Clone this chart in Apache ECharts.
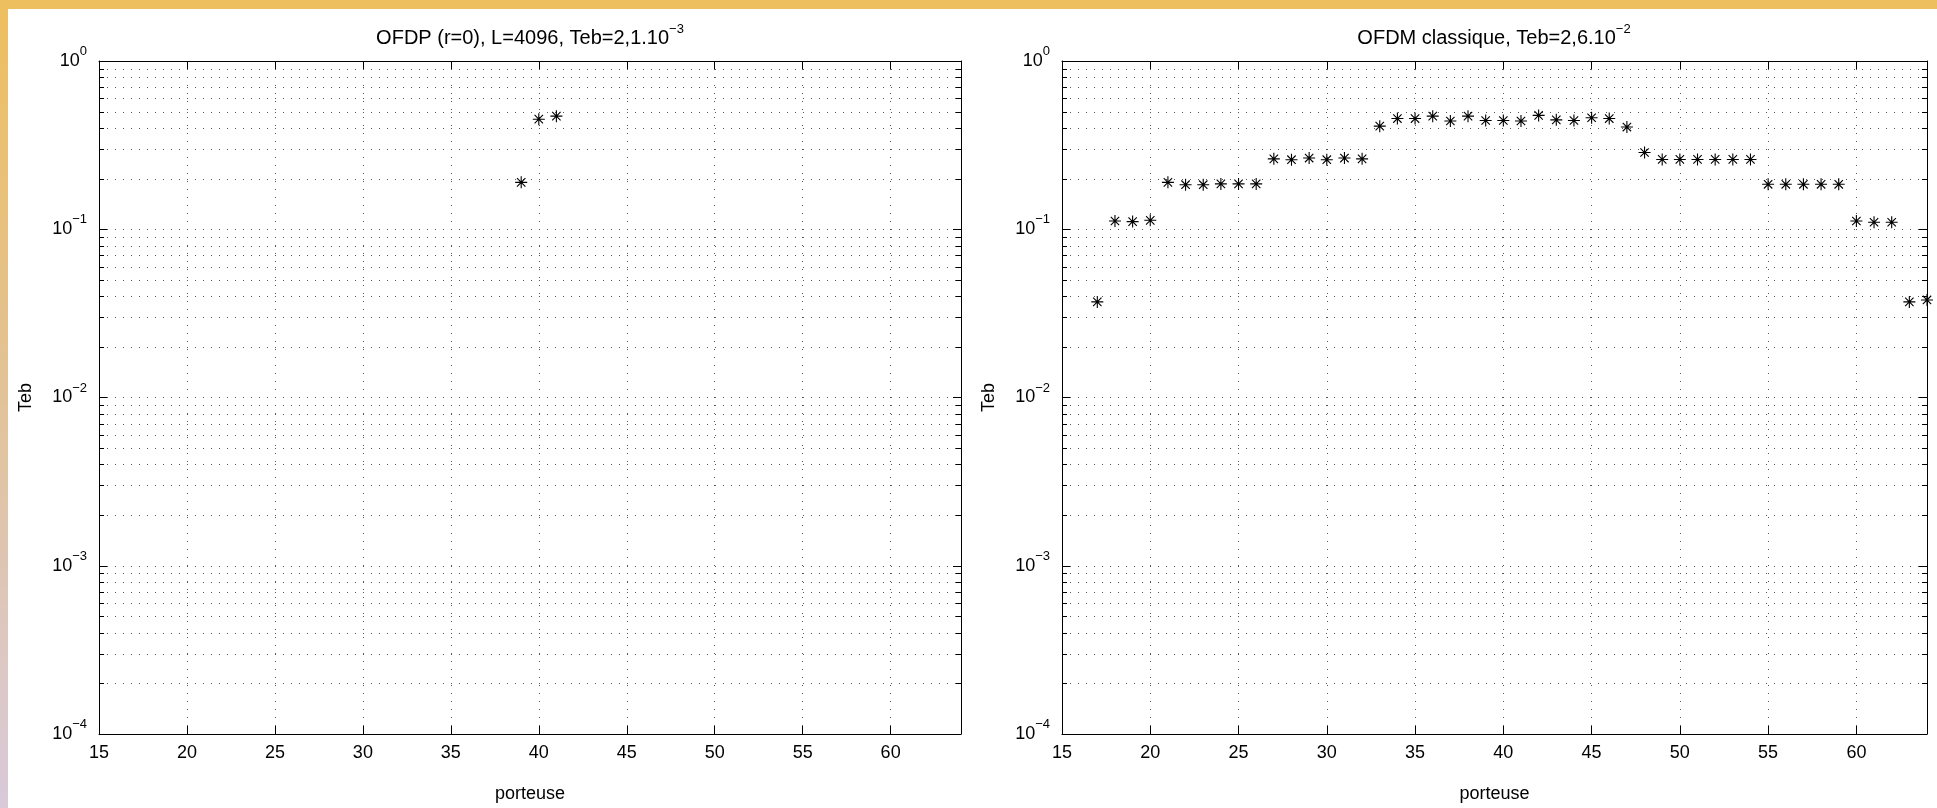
<!DOCTYPE html>
<html>
<head>
<meta charset="utf-8">
<script src="https://cdn.jsdelivr.net/npm/echarts@6/dist/echarts.min.js"></script>
<style>
html,body{margin:0;padding:0;background:#fff;}
#c{width:1937px;height:808px;}
</style>
</head>
<body>
<div id="c"></div>
<script>
// ---- data ----
const xMin = 15, xMax = 64, xStep = 5;
const yMin = 1e-4, yMax = 1;
const leftTitle = 'OFDP (r=0), L=4096, Teb=2,1.10';
const leftTitleExp = '\u22123';
const rightTitle = 'OFDM classique, Teb=2,6.10';
const rightTitleExp = '\u22122';
const xName = 'porteuse';
const yName = 'Teb';

const leftX = [39, 40, 41];
const leftY = [0.19, 0.451, 0.47];

const rightX = [17, 18, 19, 20, 21, 22, 23, 24, 25, 26, 27, 28, 29, 30, 31, 32,
  33, 34, 35, 36, 37, 38, 39, 40, 41, 42, 43, 44, 45, 46, 47, 48,
  49, 50, 51, 52, 53, 54, 55, 56, 57, 58, 59, 60, 61, 62, 63, 64];
const rightY = [0.037, 0.112, 0.111, 0.113, 0.19, 0.184, 0.184, 0.186, 0.186, 0.186,
  0.262, 0.259, 0.265, 0.259, 0.265, 0.262,
  0.41, 0.455, 0.455, 0.47, 0.44, 0.47, 0.443, 0.443, 0.44, 0.475, 0.447, 0.443, 0.46, 0.455, 0.405,
  0.286, 0.26, 0.26, 0.26, 0.26, 0.26, 0.26,
  0.185, 0.185, 0.185, 0.185, 0.185,
  0.112, 0.11, 0.11, 0.037, 0.038];

const decades = [1e-4, 1e-3, 1e-2, 1e-1];
const minorMultipliers = [2, 3, 4, 5, 6, 7, 8, 9];

// ---- helpers ----
const FONT = '"Liberation Sans", Arial, Helvetica, sans-serif';
const GRID_COLOR = '#555';
const DOTS = [1, 7];

function zip(xs, ys) { return xs.map((x, i) => [x, ys[i]]); }
const minorData = [];
decades.forEach(d => minorMultipliers.forEach(m => minorData.push([xMin, +(d * m).toPrecision(3)])));

function expLabel(v) {
  const e = Math.round(Math.log10(v));
  const s = e < 0 ? '\u2212' + (-e) : String(e);
  return '{b|10}{s|' + s + '}';
}
const labelRich = {
  b: { fontSize: 18, fontFamily: FONT, color: '#000', lineHeight: 32, verticalAlign: 'middle' },
  s: { fontSize: 13, fontFamily: FONT, color: '#000', verticalAlign: 'top' }
};
const titleRich = {
  t: { fontSize: 20, fontWeight: 'normal', fontFamily: FONT, color: '#000', lineHeight: 30, verticalAlign: 'middle' },
  s: { fontSize: 13, fontWeight: 'normal', fontFamily: FONT, color: '#000', verticalAlign: 'top' }
};

function minorRender(params, api) {
  const cs = params.coordSys;
  const v = api.value(1);
  const y = Math.round(api.coord([xMin, v])[1]) + 0.5;
  const x0 = cs.x, x1 = cs.x + cs.width;
  return {
    type: 'group',
    children: [
      { type: 'line', shape: { x1: x0, y1: y, x2: x1, y2: y },
        style: { stroke: GRID_COLOR, lineWidth: 1, lineDash: DOTS } },
      { type: 'line', shape: { x1: x0, y1: y, x2: x0 + 5, y2: y },
        style: { stroke: '#000', lineWidth: 1 } },
      { type: 'line', shape: { x1: x1 - 5, y1: y, x2: x1, y2: y },
        style: { stroke: '#000', lineWidth: 1 } }
    ]
  };
}

const grids = [
  { left: 99, top: 61, width: 862, height: 681 },
  { left: 1062, top: 61, width: 865, height: 681 }
];

const xAxes = [], yAxes = [], series = [];
grids.forEach((g, gi) => {
  xAxes.push({
    gridIndex: gi, type: 'value', min: xMin, max: xMax, interval: xStep, position: 'bottom',
    axisLine: { show: true, onZero: false, lineStyle: { color: '#000', width: 1 } },
    axisTick: { show: true, inside: true, length: 8, lineStyle: { color: '#000' } },
    axisLabel: { show: true, showMaxLabel: false, color: '#000', fontSize: 18, fontFamily: FONT, margin: 10 },
    splitLine: { show: true, lineStyle: { color: GRID_COLOR, width: 1, type: DOTS } },
    name: xName, nameLocation: 'middle', nameGap: 51,
    nameTextStyle: { color: '#000', fontSize: 18, fontFamily: FONT }
  });
  xAxes.push({
    gridIndex: gi, type: 'value', min: xMin, max: xMax, interval: xStep, position: 'top',
    axisLine: { show: true, onZero: false, lineStyle: { color: '#000', width: 1 } },
    axisTick: { show: true, inside: true, length: 8, lineStyle: { color: '#000' } },
    axisLabel: { show: false },
    splitLine: { show: false }
  });
  yAxes.push({
    gridIndex: gi, type: 'log', logBase: 10, min: yMin, max: yMax, position: 'left',
    axisLine: { show: true, onZero: false, lineStyle: { color: '#000', width: 1 } },
    axisTick: { show: true, inside: true, length: 8, lineStyle: { color: '#000' } },
    axisLabel: { show: true, formatter: expLabel, rich: labelRich, margin: 12, color: '#000' },
    splitLine: { show: true, lineStyle: { color: GRID_COLOR, width: 1, type: DOTS } },
    name: yName, nameLocation: 'middle', nameGap: 64, nameRotate: 90,
    nameTextStyle: { color: '#000', fontSize: 18, fontFamily: FONT }
  });
  yAxes.push({
    gridIndex: gi, type: 'log', logBase: 10, min: yMin, max: yMax, position: 'right',
    axisLine: { show: true, onZero: false, lineStyle: { color: '#000', width: 1 } },
    axisTick: { show: true, inside: true, length: 8, lineStyle: { color: '#000' } },
    axisLabel: { show: false },
    splitLine: { show: false }
  });
  series.push({
    type: 'custom', xAxisIndex: gi * 2, yAxisIndex: gi * 2, silent: true, z: 1,
    renderItem: minorRender, data: minorData, clip: false
  });
});

const STAR = 'path://M5,0L5,10M0,5L10,5M1.5,1.5L8.5,8.5M1.5,8.5L8.5,1.5';
function starSeries(data, gi) {
  return {
    type: 'scatter', xAxisIndex: gi * 2, yAxisIndex: gi * 2, data: data,
    symbol: STAR, symbolSize: 12, clip: false, silent: true, z: 5,
    itemStyle: { color: '#000', borderColor: '#000', borderWidth: 1.1, opacity: 1 }
  };
}
series.push(starSeries(zip(leftX, leftY), 0));
series.push(starSeries(zip(rightX, rightY), 1));

const chart = echarts.init(document.getElementById('c'), null, { renderer: 'canvas' });
chart.setOption({
  animation: false,
  backgroundColor: '#fff',
  textStyle: { fontFamily: FONT },
  title: [
    { text: '{t|' + leftTitle + '}{s|' + leftTitleExp + '}', left: 530, top: 38, padding: 0,
      textAlign: 'center', textVerticalAlign: 'middle',
      textStyle: { fontWeight: 'normal', rich: titleRich } },
    { text: '{t|' + rightTitle + '}{s|' + rightTitleExp + '}', left: 1494, top: 38, padding: 0,
      textAlign: 'center', textVerticalAlign: 'middle',
      textStyle: { fontWeight: 'normal', rich: titleRich } }
  ],
  grid: grids,
  xAxis: xAxes,
  yAxis: yAxes,
  series: series,
  graphic: [
    { type: 'rect', silent: true, z: 100, shape: { x: 0, y: 0, width: 8, height: 808 },
      style: { fill: { type: 'linear', x: 0, y: 0, x2: 0, y2: 1, colorStops: [
        { offset: 0, color: '#EEBF5E' }, { offset: 0.45, color: '#E3C293' }, { offset: 1, color: '#D9CADB' } ] } } },
    { type: 'rect', silent: true, z: 100, shape: { x: 0, y: 0, width: 1937, height: 9 },
      style: { fill: '#EEBF5E' } }
  ]
});
</script>
</body>
</html>
